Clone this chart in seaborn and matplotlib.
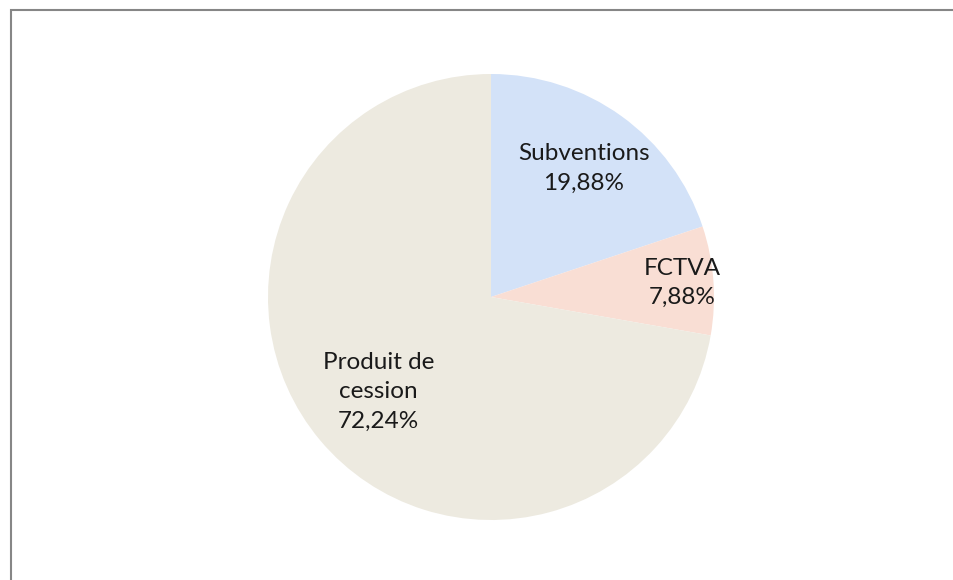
import numpy as np
import seaborn as sns
import matplotlib.pyplot as plt
from matplotlib.patches import Rectangle

categories = ["Subventions", "FCTVA", "Produit de\ncession"]
shares = [19.88, 7.88, 72.24]
pct_labels = ["19,88%", "7,88%", "72,24%"]
colors = ["#D3E2F8", "#F9DED4", "#EDEAE0"]
label_dist = [0.71, 0.86, 0.66]

sns.set_theme(style="white")
plt.rcParams["font.family"] = ["Lato", "DejaVu Sans"]

fig = plt.figure(figsize=(9.54, 5.80), dpi=100)
ax = fig.add_axes([268 / 954, 60 / 580, 446 / 954, 446 / 580])

wedges, _ = ax.pie(shares, colors=colors, startangle=90, counterclock=False,
                   radius=1.0, wedgeprops=dict(linewidth=0))

for w, cat, pct, d in zip(wedges, categories, pct_labels, label_dist):
    mid = np.deg2rad((w.theta1 + w.theta2) / 2)
    ax.text(d * np.cos(mid), d * np.sin(mid), f"{cat}\n{pct}",
            ha="center", va="center", fontsize=17.5, color="#1a1a1a",
            linespacing=1.5)

ax.set_xlim(-1, 1)
ax.set_ylim(-1, 1)
ax.set_aspect("equal")
ax.axis("off")

# chart area border (only top and left visible in the crop)
fig.patches.append(Rectangle((11.5 / 954, -0.05), 1.2, 1 - 10 / 580 + 0.05,
                             transform=fig.transFigure, fill=False,
                             edgecolor="#868686", linewidth=1.5))

fig.savefig("out.png", dpi=100)
